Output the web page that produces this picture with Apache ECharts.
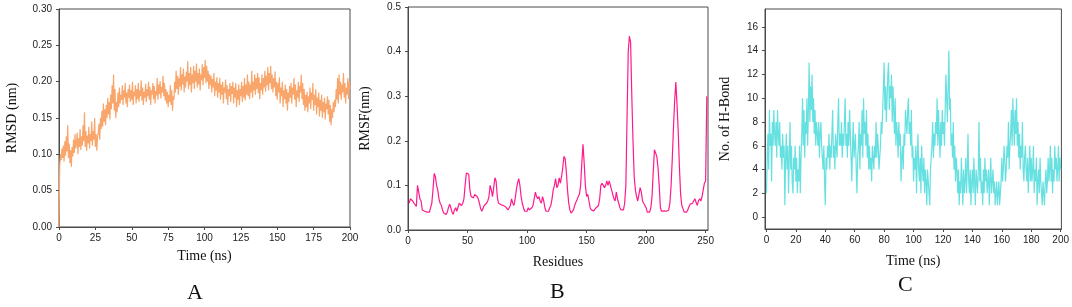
<!DOCTYPE html>
<html>
<head>
<meta charset="utf-8">
<script src="https://cdn.jsdelivr.net/npm/echarts@6/dist/echarts.min.js"></script>
<style>
  html, body { margin: 0; padding: 0; background: #fff; }
  #chart { width: 1072px; height: 307px; }
</style>
</head>
<body>
<div id="chart"></div>
<script>
// A: RMSD (nm), one sample every 0.5 ns
const rmsdStep = 0.5
const rmsd = [
  0.000, 0.085, 0.100, 0.092, 0.108, 0.095, 0.112, 0.090, 0.118, 0.098, 0.125, 0.104, 0.140, 0.095, 0.115, 0.088, 0.106, 0.083, 0.110, 0.097,
  0.120, 0.102, 0.128, 0.108, 0.115, 0.130, 0.100, 0.122, 0.110, 0.135, 0.106, 0.125, 0.112, 0.140, 0.118, 0.158, 0.110, 0.132, 0.105, 0.126,
  0.115, 0.138, 0.108, 0.128, 0.118, 0.145, 0.112, 0.132, 0.120, 0.150, 0.110, 0.128, 0.105, 0.124, 0.130, 0.142, 0.120, 0.150, 0.135, 0.160,
  0.138, 0.170, 0.145, 0.162, 0.140, 0.168, 0.150, 0.178, 0.155, 0.172, 0.148, 0.182, 0.162, 0.195, 0.170, 0.210, 0.160, 0.190, 0.150, 0.172,
  0.158, 0.185, 0.165, 0.192, 0.170, 0.182, 0.175, 0.195, 0.168, 0.188, 0.178, 0.198, 0.170, 0.185, 0.165, 0.190, 0.178, 0.196, 0.172, 0.188,
  0.175, 0.200, 0.168, 0.186, 0.180, 0.195, 0.170, 0.190, 0.176, 0.198, 0.172, 0.188, 0.180, 0.202, 0.174, 0.192, 0.168, 0.186, 0.178, 0.197,
  0.172, 0.190, 0.180, 0.200, 0.175, 0.193, 0.168, 0.188, 0.182, 0.198, 0.176, 0.194, 0.170, 0.187, 0.181, 0.205, 0.175, 0.196, 0.183, 0.201,
  0.177, 0.193, 0.185, 0.208, 0.180, 0.198, 0.174, 0.190, 0.170, 0.186, 0.165, 0.182, 0.172, 0.195, 0.168, 0.188, 0.160, 0.180, 0.175, 0.200,
  0.185, 0.215, 0.190, 0.208, 0.182, 0.205, 0.193, 0.220, 0.188, 0.210, 0.196, 0.218, 0.185, 0.207, 0.192, 0.214, 0.200, 0.228, 0.190, 0.212,
  0.195, 0.220, 0.185, 0.210, 0.198, 0.222, 0.190, 0.215, 0.200, 0.225, 0.192, 0.212, 0.196, 0.218, 0.188, 0.210, 0.202, 0.224, 0.195, 0.220,
  0.205, 0.230, 0.198, 0.222, 0.200, 0.215, 0.190, 0.210, 0.195, 0.208, 0.185, 0.204, 0.192, 0.212, 0.180, 0.200, 0.188, 0.206, 0.178, 0.198,
  0.185, 0.205, 0.175, 0.196, 0.182, 0.200, 0.170, 0.192, 0.185, 0.203, 0.176, 0.195, 0.168, 0.190, 0.180, 0.198, 0.172, 0.194, 0.183, 0.200,
  0.170, 0.192, 0.178, 0.198, 0.165, 0.188, 0.175, 0.196, 0.168, 0.190, 0.180, 0.200, 0.172, 0.194, 0.178, 0.205, 0.174, 0.196, 0.182, 0.210,
  0.180, 0.200, 0.176, 0.196, 0.185, 0.215, 0.178, 0.200, 0.188, 0.210, 0.182, 0.205, 0.190, 0.212, 0.184, 0.206, 0.176, 0.198, 0.188, 0.210,
  0.182, 0.205, 0.192, 0.215, 0.186, 0.208, 0.195, 0.220, 0.188, 0.212, 0.198, 0.222, 0.190, 0.210, 0.185, 0.205, 0.192, 0.214, 0.180, 0.200,
  0.175, 0.198, 0.185, 0.206, 0.170, 0.192, 0.180, 0.200, 0.165, 0.188, 0.176, 0.196, 0.170, 0.190, 0.160, 0.185, 0.172, 0.194, 0.178, 0.198,
  0.170, 0.192, 0.182, 0.205, 0.175, 0.196, 0.165, 0.188, 0.178, 0.200, 0.172, 0.194, 0.185, 0.210, 0.176, 0.198, 0.168, 0.190, 0.160, 0.182,
  0.165, 0.186, 0.158, 0.180, 0.170, 0.192, 0.162, 0.185, 0.175, 0.198, 0.160, 0.182, 0.168, 0.190, 0.155, 0.178, 0.165, 0.185, 0.152, 0.175,
  0.160, 0.182, 0.150, 0.172, 0.158, 0.178, 0.148, 0.170, 0.162, 0.180, 0.155, 0.175, 0.145, 0.168, 0.140, 0.162, 0.150, 0.172, 0.158, 0.175,
  0.165, 0.190, 0.175, 0.205, 0.170, 0.210, 0.182, 0.200, 0.175, 0.196, 0.185, 0.212, 0.178, 0.198, 0.170, 0.192, 0.182, 0.205, 0.176, 0.200,
  0.190
]

// B: RMSF (nm) per residue, residues 1..251
const rmsf = [
  0.060, 0.070, 0.068, 0.065, 0.060, 0.056, 0.053, 0.100, 0.085, 0.070,
  0.065, 0.045, 0.045, 0.042, 0.041, 0.040, 0.042, 0.040, 0.050, 0.060,
  0.090, 0.127, 0.120, 0.100, 0.090, 0.070, 0.060, 0.055, 0.045, 0.038,
  0.035, 0.035, 0.040, 0.050, 0.058, 0.050, 0.040, 0.035, 0.045, 0.050,
  0.042, 0.045, 0.060, 0.058, 0.055, 0.060, 0.070, 0.100, 0.128, 0.130,
  0.125, 0.090, 0.075, 0.075, 0.072, 0.080, 0.082, 0.075, 0.070, 0.060,
  0.048, 0.042, 0.048, 0.055, 0.058, 0.060, 0.065, 0.075, 0.100, 0.090,
  0.075, 0.095, 0.117, 0.110, 0.075, 0.060, 0.058, 0.057, 0.055, 0.055,
  0.053, 0.052, 0.050, 0.045, 0.050, 0.055, 0.070, 0.060, 0.055, 0.070,
  0.090, 0.105, 0.115, 0.100, 0.075, 0.060, 0.050, 0.042, 0.040, 0.042,
  0.050, 0.045, 0.048, 0.050, 0.055, 0.070, 0.085, 0.075, 0.070, 0.075,
  0.065, 0.060, 0.075, 0.065, 0.050, 0.042, 0.040, 0.042, 0.050, 0.055,
  0.070, 0.090, 0.100, 0.115, 0.095, 0.100, 0.117, 0.105, 0.120, 0.140,
  0.165, 0.160, 0.130, 0.090, 0.060, 0.045, 0.038, 0.038, 0.045, 0.055,
  0.062, 0.068, 0.075, 0.080, 0.100, 0.150, 0.192, 0.150, 0.100, 0.075,
  0.080, 0.065, 0.050, 0.045, 0.042, 0.043, 0.045, 0.050, 0.052, 0.055,
  0.070, 0.100, 0.105, 0.100, 0.095, 0.100, 0.110, 0.100, 0.110, 0.100,
  0.090, 0.080, 0.070, 0.065, 0.085, 0.070, 0.060, 0.050, 0.045, 0.043,
  0.045, 0.060, 0.100, 0.250, 0.400, 0.435, 0.420, 0.300, 0.200, 0.120,
  0.090, 0.075, 0.065, 0.080, 0.095, 0.085, 0.065, 0.060, 0.058, 0.050,
  0.040, 0.038, 0.040, 0.050, 0.075, 0.130, 0.180, 0.178, 0.165, 0.140,
  0.100, 0.050, 0.042, 0.045, 0.043, 0.045, 0.042, 0.040, 0.045, 0.060,
  0.100, 0.160, 0.230, 0.290, 0.332, 0.280, 0.220, 0.140, 0.080, 0.055,
  0.048, 0.040, 0.038, 0.040, 0.045, 0.052, 0.058, 0.060, 0.060, 0.062,
  0.070, 0.062, 0.055, 0.065, 0.070, 0.065, 0.075, 0.090, 0.105, 0.110,
  0.300
]

// C: number of H-bonds, one sample every 0.5 ns
const hbondStep = 0.5
const hbond = [
  2, 5, 7, 4, 9, 6, 7, 3, 8, 6, 9, 7, 6, 8, 5, 9, 7, 6, 8, 5,
  6, 4, 7, 5, 6, 1, 5, 7, 4, 6, 2, 5, 8, 4, 6, 3, 2, 5, 4, 6,
  3, 5, 2, 4, 3, 6, 2, 5, 7, 10, 6, 9, 5, 8, 7, 10, 6, 9, 13, 8,
  11, 9, 12, 8, 10, 7, 9, 6, 8, 7, 6, 8, 5, 7, 8, 6, 5, 4, 6, 3,
  1, 5, 4, 6, 5, 7, 4, 6, 5, 7, 9, 5, 6, 4, 7, 6, 5, 8, 10, 6,
  7, 6, 8, 5, 7, 6, 8, 10, 6, 7, 5, 8, 6, 9, 7, 5, 3, 6, 8, 5,
  6, 7, 4, 2, 5, 6, 8, 4, 7, 6, 9, 5, 10, 7, 8, 6, 9, 5, 7, 4,
  6, 4, 5, 3, 6, 5, 4, 6, 5, 8, 5, 7, 6, 4, 5, 6, 8, 7, 9, 11,
  13, 9, 11, 8, 10, 12, 13, 9, 11, 10, 12, 8, 11, 9, 7, 10, 6, 8, 7, 5,
  8, 6, 7, 3, 5, 6, 4, 7, 6, 9, 8, 7, 9, 10, 7, 8, 6, 9, 5, 6,
  3, 5, 4, 6, 2, 5, 7, 4, 3, 5, 2, 6, 4, 3, 5, 2, 4, 3, 1, 4,
  3, 2, 1, 4, 5, 6, 8, 5, 7, 6, 8, 7, 10, 6, 9, 7, 5, 8, 6, 9,
  7, 8, 6, 9, 12, 10, 8, 11, 14, 9, 10, 6, 7, 5, 8, 4, 6, 3, 5, 4,
  2, 4, 1, 3, 2, 5, 3, 1, 4, 2, 3, 5, 2, 4, 7, 3, 2, 4, 1, 3,
  4, 2, 5, 3, 1, 4, 3, 2, 4, 8, 3, 5, 2, 3, 1, 4, 2, 5, 3, 4,
  2, 3, 4, 1, 3, 5, 2, 3, 4, 2, 3, 1, 2, 3, 1, 2, 3, 1, 2, 3,
  5, 3, 4, 6, 5, 3, 4, 6, 5, 8, 4, 6, 7, 9, 6, 10, 8, 6, 9, 7,
  10, 6, 8, 5, 7, 4, 6, 5, 8, 4, 3, 5, 6, 4, 3, 5, 2, 4, 6, 3,
  5, 3, 4, 6, 2, 4, 3, 5, 1, 3, 4, 2, 5, 3, 2, 1, 3, 2, 1, 3,
  4, 2, 3, 5, 3, 4, 6, 3, 5, 2, 4, 3, 6, 4, 5, 3, 4, 6, 3, 5,
  4
]

const rmsfTicks = [0, 50, 100, 150, 200, 250]
const hbondTimeTicks = [0, 20, 40, 60, 80, 100, 120, 140, 160, 180, 200]
const hbondTicks = [0, 2, 4, 6, 8, 10, 12, 14, 16]

const serif = '"Liberation Serif", "Times New Roman", serif'
const sans = '"Liberation Sans", Arial, sans-serif'
const frame = '#4a4a4a'

const labelStyle = (extra) => Object.assign({ fontFamily: sans, fontSize: 10, color: '#222', margin: 6 }, extra)
const tickStyle = (extra) => Object.assign({ show: true, length: 3, lineStyle: { color: frame } }, extra)

const axisBase = (extra) => Object.assign({
  type: 'value',
  nameLocation: 'middle',
  nameTextStyle: { fontFamily: serif, fontSize: 14, color: '#111' },
  axisLine: { show: true, onZero: false, lineStyle: { color: frame, width: 1 } },
  axisTick: tickStyle(),
  axisLabel: labelStyle(),
  splitLine: { show: false }
}, extra)

const chart = echarts.init(document.getElementById('chart'))

const option = {
  animation: false,
  backgroundColor: '#fff',
  grid: [
    { left: 59, top: 9, width: 291, height: 218, show: true, borderColor: frame, borderWidth: 1 },
    { left: 408, top: 7, width: 300, height: 223, show: true, borderColor: frame, borderWidth: 1 },
    { left: 765, top: 9, width: 297, height: 220, show: true, borderColor: frame, borderWidth: 1 }
  ],
  xAxis: [
    axisBase({ gridIndex: 0, min: 0, max: 200, interval: 25, name: 'Time (ns)', nameGap: 22 }),
    axisBase({
      gridIndex: 1, min: 0, max: 252, name: 'Residues', nameGap: 25,
      axisTick: tickStyle({ customValues: rmsfTicks }),
      axisLabel: labelStyle({ customValues: rmsfTicks })
    }),
    axisBase({
      gridIndex: 2, min: -1, max: 200.5, name: 'Time (ns)', nameGap: 25,
      axisTick: tickStyle({ customValues: hbondTimeTicks }),
      axisLabel: labelStyle({ customValues: hbondTimeTicks })
    })
  ],
  yAxis: [
    axisBase({
      gridIndex: 0, min: 0, max: 0.3, interval: 0.05, name: 'RMSD (nm)', nameGap: 40,
      axisLabel: labelStyle({ margin: 7, formatter: (v) => v.toFixed(2) })
    }),
    axisBase({
      gridIndex: 1, min: 0, max: 0.5, interval: 0.1, name: 'RMSF(nm)', nameGap: 36,
      axisLabel: labelStyle({ margin: 7, formatter: (v) => v.toFixed(1) })
    }),
    axisBase({
      gridIndex: 2, min: -1, max: 17.5, name: 'No. of H-Bond', nameGap: 33,
      axisTick: tickStyle({ customValues: hbondTicks }),
      axisLabel: labelStyle({ margin: 7, customValues: hbondTicks })
    })
  ],
  series: [
    {
      type: 'line',
      xAxisIndex: 0,
      yAxisIndex: 0,
      showSymbol: false,
      lineStyle: { color: '#F9A66C', width: 1.2 },
      data: rmsd.map((v, i) => [i * rmsdStep, v])
    },
    {
      type: 'line',
      xAxisIndex: 1,
      yAxisIndex: 1,
      showSymbol: false,
      lineStyle: { color: '#FF1A8C', width: 1.2 },
      data: rmsf.map((v, i) => [i + 1, v])
    },
    {
      type: 'line',
      xAxisIndex: 2,
      yAxisIndex: 2,
      showSymbol: false,
      lineStyle: { color: '#66E0E0', width: 1.2 },
      data: hbond.map((v, i) => [i * hbondStep, v])
    }
  ],
  graphic: [
    { type: 'text', left: 187, top: 282, style: { text: 'A', font: '22px ' + serif, fill: '#111' } },
    { type: 'text', left: 550, top: 281, style: { text: 'B', font: '22px ' + serif, fill: '#111' } },
    { type: 'text', left: 898, top: 274, style: { text: 'C', font: '22px ' + serif, fill: '#111' } }
  ]
}

chart.setOption(option)
</script>
</body>
</html>
